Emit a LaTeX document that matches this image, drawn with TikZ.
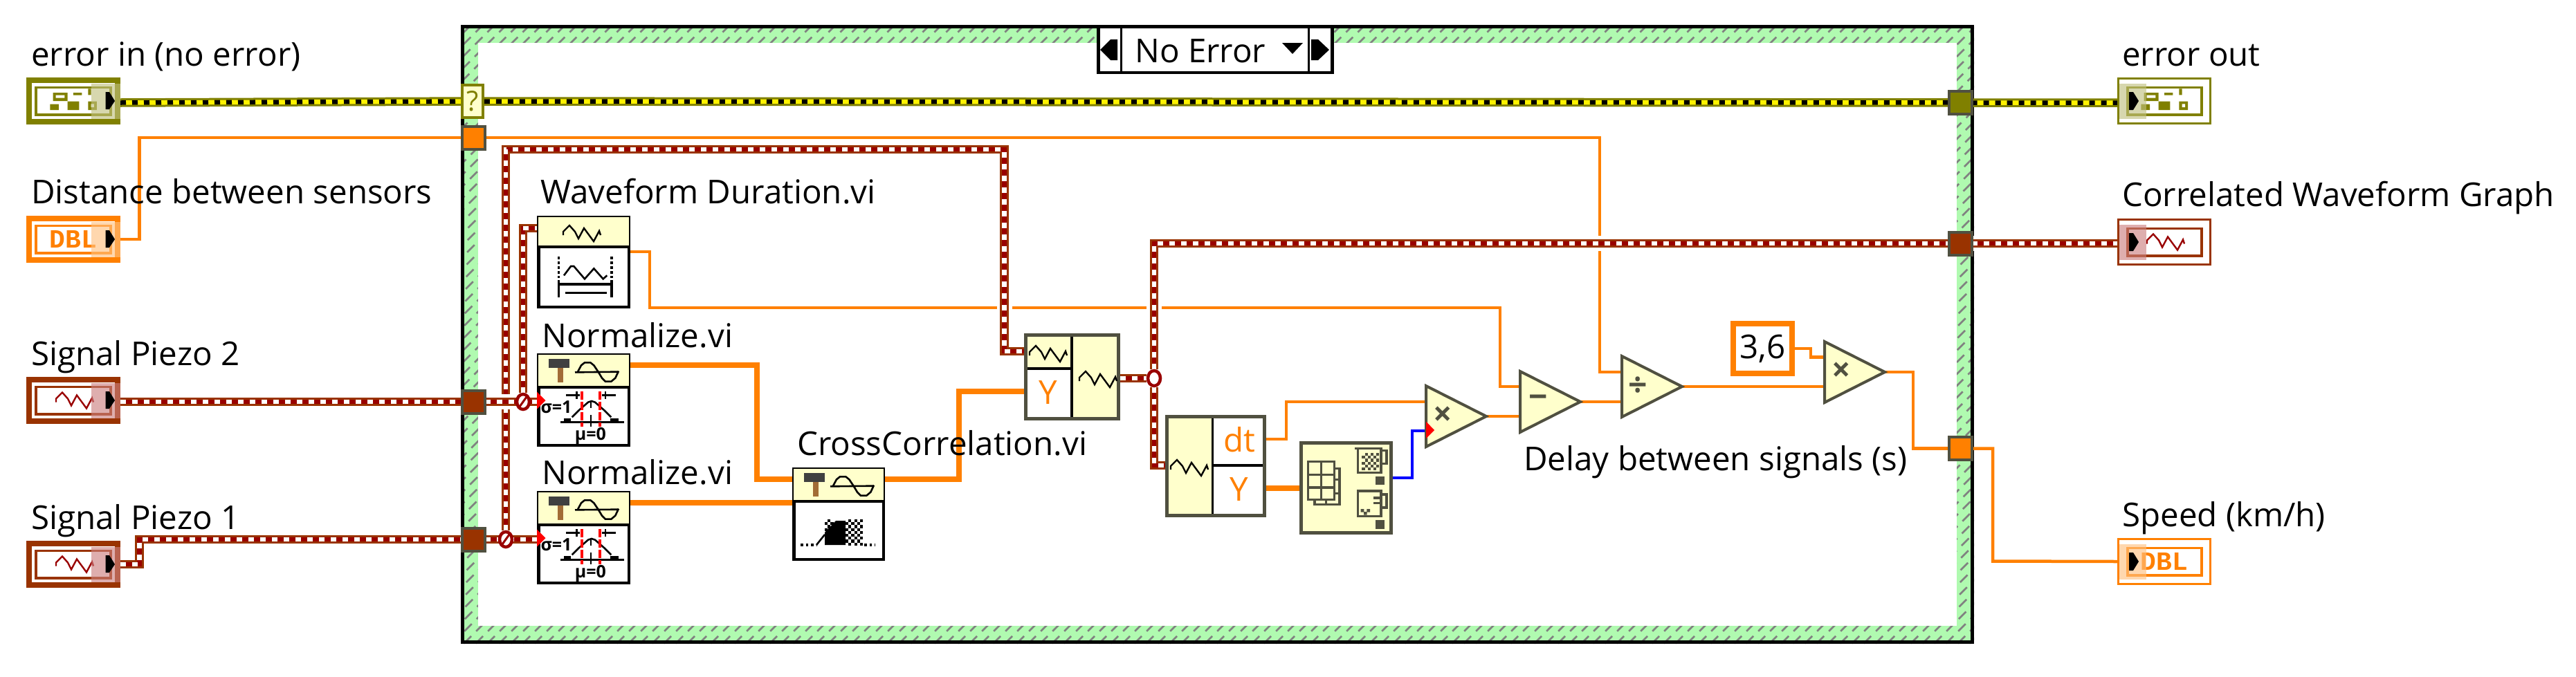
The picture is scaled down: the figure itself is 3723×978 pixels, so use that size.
\documentclass[tikz,border=0pt]{standalone}
\usepackage{fontspec}
\setmainfont{Open Sans}
\newfontfamily\termfont{Liberation Mono}
\usetikzlibrary{shapes.geometric}
\pgfdeclarelayer{frame}
\pgfdeclarelayer{wires}
\pgfsetlayers{frame,wires,main}
\definecolor{errc}{HTML}{808000}
\definecolor{wfmo}{HTML}{993300}
\definecolor{wfmi}{HTML}{990000}
\definecolor{dblc}{HTML}{FF8000}
\definecolor{hdr}{HTML}{FFFFCC}
\definecolor{gl}{HTML}{505040}
\definecolor{hatchg}{HTML}{B0FAB0}
\tikzset{
  lbl/.style={anchor=base west,inner sep=0pt,font=\fontsize{47.5}{50}\selectfont},
  thin wire/.style={draw=dblc,line width=4.5pt},
  thick wire/.style={draw=dblc,line width=8.5pt},
  wfm/.style={draw=wfmo,line width=12.5pt,
    preaction={draw=white,line width=22pt},
    postaction={draw=wfmi,line width=6.5pt},
    postaction={draw=white,line width=6.5pt,dash pattern=on 8pt off 9pt}},
  err/.style={draw=errc,line width=12.5pt,
    postaction={draw=yellow,line width=6.5pt},
    postaction={draw=black,line width=6.5pt,dash pattern=on 8pt off 9pt}},
  tun/.style={draw=gl,line width=4pt,minimum width=33pt,minimum height=33pt,inner sep=0pt,outer sep=0pt},
  vi/.style={draw=black,line width=4.5pt,fill=white,inner sep=0pt,outer sep=0pt},
  prim/.style={shape=isosceles triangle,isosceles triangle stretches,shape border rotate=0,
    minimum width=88pt,minimum height=87pt,inner sep=0pt,outer sep=0pt,draw=gl,line width=4pt,
    fill=hdr,anchor=lower side,text=gl,font=\fontsize{48}{50}\selectfont\bfseries},
  junc/.style={shape=ellipse,minimum width=18pt,minimum height=22pt,inner sep=0pt,draw=wfmi,line width=4.5pt,fill=white},
  orl/.style={inner sep=0pt,text=dblc,font=\fontsize{47.5}{50}\selectfont},
}
% waveform glyph: centre x, centre y, colour
\newcommand{\wavegl}[3]{\draw[#3,line width=2.4pt] (#1-27,#2+3) -- (#1-27,#2-2) -- (#1-18,#2-11) -- (#1-10,#2-2) -- (#1-5,#2+8) -- (#1+3,#2-7) -- (#1+17,#2+12) -- (#1+25,#2-3) -- (#1+27,#2+3);}
% error cluster glyph, drawn in zoom units
\newcommand{\errgl}[2]{\begin{scope}[shift={(#1-8,#2-7)},x=.3333pt,y=-.3333pt]
  \fill[errc] (140,87) rectangle (203,123) (228,87) rectangle (265,98) (127,137) rectangle (165,162) (203,125) rectangle (253,162) (292,70) rectangle (305,97) (292,125) rectangle (330,162);
  \fill[white] (152,98) rectangle (190,110) (305,136) rectangle (318,150);
\end{scope}}
% control terminal: name x y colour overlay glyph
\newcommand{\ctlterm}[6]{\node[draw=#4,line width=8pt,fill=white,minimum width=128pt,minimum height=60pt,inner sep=0pt,outer sep=4pt] (#1) at (#2+68,#3+34) {};
  \draw[#4,line width=3.4pt] (#2+14,#3+14.5) rectangle (#2+122,#3+54);
  #6
  \fill[#5!50!white,opacity=.63] (#2+94,#3+9) rectangle (#2+136,#3+60);
  \fill[black] (#2+114.7,#3+21) -- (#2+120,#3+21) -- (#2+128,#3+34) -- (#2+120,#3+46) -- (#2+114.7,#3+46) -- cycle;}
% indicator terminal
\newcommand{\indterm}[6]{\node[draw=#4,line width=3.2pt,fill=white,minimum width=133pt,minimum height=65pt,inner sep=0pt,outer sep=1.6pt] (#1) at (#2+68,#3+34) {};
  \draw[#4,line width=3.4pt] (#2+15,#3+14.5) rectangle (#2+122,#3+54);
  #6
  \fill[#5!50!white,opacity=.63] (#2+3,#3+9) rectangle (#2+42,#3+60);
  \fill[black] (#2+17,#3+21) -- (#2+23,#3+21) -- (#2+31,#3+34) -- (#2+23,#3+47) -- (#2+17,#3+47) -- cycle;}
% subVI: name x y w h header height
\newcommand{\viblock}[6]{\node[vi,minimum width=#4pt-4.5pt,minimum height=#5pt-4.5pt] (#1) at (#2+#4/2,#3+#5/2) {};
  \fill[hdr] (#2+2,#3+2) rectangle (#2+#4-2,#3+#6);
  \draw[black,line width=3.6pt] (#2,#3+#6) -- (#2+#4,#3+#6);}
\newcommand{\hammergl}[2]{\begin{scope}[shift={(#1-6,#2-6)},x=.3333pt,y=-.3333pt]
  \fill[black!75] (68,42) rectangle (158,80);
  \fill[brown!85!black] (107,80) rectangle (133,145);
  \draw[black,line width=2.6pt] (183,100) -- (372,98);
  \draw[black,line width=2.6pt] (195,98) -- (210,70) -- (225,58) -- (250,58) -- (265,70) -- (285,100) -- (300,125) -- (315,140) -- (340,140) -- (358,125) -- (372,95);
\end{scope}}
\newcommand{\normgl}[2]{\begin{scope}[shift={(#1,#2)},x=.3333pt,y=-.3333pt]
  \node[inner sep=0pt,font=\fontsize{25}{25}\selectfont\bfseries] (sig#2) at (102,252) {σ=1};
  \node[inner sep=0pt,font=\fontsize{25}{25}\selectfont\bfseries] (mu#2) at (250,375) {μ=0};
  \draw[black,line width=3.6pt] (120,316) -- (395,316);
  \draw[black,line width=5pt] (135,308) -- (165,308) (335,308) -- (372,308);
  \draw[black,line width=2.6pt] (170,295) -- (200,265) -- (240,230) -- (255,225) -- (270,230) -- (310,265) -- (340,295);
  \draw[black,line width=2.8pt] (145,200) -- (205,200) (300,200) -- (360,200) (190,183) -- (190,217) (315,183) -- (315,217) (252,225) -- (252,255) (252,285) -- (252,335);
  \draw[red,line width=4pt,dash pattern=on 12pt off 3pt] (213,183) -- (213,335) (290,183) -- (290,335);
\end{scope}}
\newcommand{\tgl}[2]{\fill[red] (#1,#2-12.5) -- (#1+12.5,#2) -- (#1,#2+12.5) -- cycle;}
\begin{document}
\begin{tikzpicture}[x=1pt,y=-1pt,line join=miter]
\useasboundingbox (0,0) rectangle (3723,978);
%% structure frame
\begin{pgfonlayer}{frame}
  \fill[hatchg] (666,36) rectangle (2853,931);
  \begin{scope}
    \clip (666,36) rectangle (2853,931);
    \foreach \i in {700,717,...,3800}
      \draw[black!50,line width=2.6pt,dash pattern=on 15pt off 10pt] (\i-36,36) -- (\i-936,936);
  \end{scope}
  \fill[white] (691,62) rectangle (2828,905);
  \draw[black,line width=5pt] (668.5,38.5) rectangle (2850.5,928.5);
\end{pgfonlayer}
%% case selector
\node[draw=black,line width=4.5pt,fill=white,minimum width=338pt,minimum height=66pt,inner sep=0pt] (sel) at (1756.5,72) {};
\draw[black,line width=3.6pt] (1620.5,38) -- (1620.5,105) (1891.5,38) -- (1891.5,105);
\node[lbl] (seltxt) at (1640,90) {No Error};
\fill[black] (1615,57) -- (1605,57) -- (1590,72) -- (1605,87) -- (1615,87) -- cycle;
\fill[black] (1895,57) -- (1905,57) -- (1921,72) -- (1905,87) -- (1895,87) -- cycle;
\fill[black] (1853,62) -- (1883,62) -- (1868,78) -- cycle;
%% tunnels
\node[draw=errc,line width=3.6pt,fill=hdr,minimum width=30pt,minimum height=47pt,inner sep=0pt,text=errc,font=\fontsize{40}{40}\selectfont] (qT) at (683,146.5) {?};
\node[tun,fill=dblc] (tunD) at (684.5,199) {};
\node[tun,fill=wfmo] (tun2) at (684.5,581) {};
\node[tun,fill=wfmo] (tun1) at (684.5,780) {};
\node[tun,fill=errc] (eT) at (2833,148.5) {};
\node[tun,fill=wfmo] (tunG) at (2833,352) {};
\node[tun,fill=dblc] (tunS) at (2833,648.5) {};
%% front panel terminals
\ctlterm{tEin}{38}{112}{errc}{errc}{\errgl{38}{112}}
\ctlterm{tD}{38}{312}{dblc}{dblc}{\node[inner sep=0pt,text=dblc,font=\termfont\bfseries\fontsize{38}{38}\selectfont] (tDt) at (106,345.5) {DBL};}
\ctlterm{tP2}{38}{545}{wfmo}{wfmi}{\wavegl{108}{578.5}{wfmi}}
\ctlterm{tP1}{38}{782}{wfmo}{wfmi}{\wavegl{108}{815.5}{wfmi}}
\indterm{tEout}{3060}{112}{errc}{errc}{\errgl{3060}{112}}
\indterm{tG}{3060}{316}{wfmo}{wfmi}{\wavegl{3130}{349.5}{wfmi}}
\indterm{tS}{3060}{778}{dblc}{dblc}{\node[inner sep=0pt,text=dblc,font=\termfont\bfseries\fontsize{38}{38}\selectfont] (tSt) at (3128,811.5) {DBL};}
%% labels
\node[lbl] (l1) at (45,95) {error in (no error)};
\node[lbl] (l2) at (45,294) {Distance between sensors};
\node[lbl] (l3) at (45,528) {Signal Piezo 2};
\node[lbl] (l4) at (45,765) {Signal Piezo 1};
\node[lbl] (l5) at (3067,95) {error out};
\node[lbl] (l6) at (3067,298) {Correlated Waveform Graph};
\node[lbl] (l7) at (3067,761) {Speed (km/h)};
\node[lbl] (l8) at (781,294) {Waveform Duration.vi};
\node[lbl] (l9) at (783,502) {Normalize.vi};
\node[lbl] (l10) at (783,700) {Normalize.vi};
\node[lbl] (l11) at (1152,658) {CrossCorrelation.vi};
\node[lbl] (l12) at (2202,680) {Delay between signals (s)};
%% subVIs
\viblock{wd}{776}{312}{135}{134}{45}
\wavegl{841}{337}{black}
\begin{scope}[shift={(770,305)},x=.3333pt,y=-.3333pt]
  \draw[black,line width=3.6pt,dash pattern=on 3.5pt off 3.5pt] (112,198) -- (112,290) (342,198) -- (342,290);
  \draw[black,line width=2.6pt] (135,280) -- (165,240) -- (178,240) -- (225,295) -- (265,250) -- (305,295) -- (322,280);
  \draw[black,line width=3.6pt] (112,300) -- (112,375) (342,300) -- (342,375) (112,318) -- (342,318) (140,355) -- (320,355);
\end{scope}
\viblock{n1}{776}{511}{135}{135}{49}
\hammergl{776}{511}
\normgl{770}{505}
\viblock{n2}{776}{710}{135}{135}{49}
\hammergl{776}{710}
\normgl{770}{704}
\viblock{cc}{1145}{676}{134}{135}{49}
\hammergl{1145}{676}
\begin{scope}[shift={(1145,676)}]
  \fill[black] (47,112) -- (47,94) -- (63,77) -- (77,77) -- (77,112) -- cycle;
  \foreach \a in {0,...,5} {
    \foreach \b in {0,...,8} {
      \ifodd\numexpr\a+\b\relax\fill[black] (77+\a*4.2,75+\b*4.2) rectangle +(4.2,4.2);\fi
    }
  }
  \foreach \a in {0,...,2} {
    \foreach \b in {0,...,3} {
      \ifodd\numexpr\a+\b\relax\fill[black] (47+\a*4.2,75+\b*4.2) rectangle +(4.2,4.2);\fi
    }
  }
  \draw[black,line width=3.6pt,dash pattern=on 3.6pt off 4pt] (12,112) -- (36,112) (104,112) -- (120,112);
  \draw[black,line width=2.6pt] (35,112) -- (47,97);
\end{scope}
%% build waveform
\node[draw=gl,line width=5pt,fill=hdr,minimum width=134pt,minimum height=121pt,inner sep=0pt,outer sep=0pt] (bw) at (1549.5,545) {};
\fill[white] (1549,533) rectangle (1482.5,605.5);
\draw[black,line width=3.6pt] (1549,484) -- (1549,606) (1482,533) -- (1549,533);
\draw[gl,line width=5pt] (bw.south west) rectangle (bw.north east);
\wavegl{1515}{511}{black}
\wavegl{1587}{548}{black}
\node[orl] (bwyt) at (1515,568) {Y};
%% get waveform components
\node[draw=gl,line width=5pt,fill=hdr,minimum width=141pt,minimum height=143pt,inner sep=0pt,outer sep=0pt] (gw) at (1757,674) {};
\fill[white] (1752.5,602.5) rectangle (1827.5,745.5);
\draw[black,line width=3.6pt] (1752.5,602) -- (1752.5,746) (1752.5,673) -- (1828,673);
\draw[gl,line width=5pt] (gw.south west) rectangle (gw.north east);
\wavegl{1719}{676}{black}
\node[orl] (gwdtx) at (1791,636) {dt};
\node[orl] (gwyx) at (1791,708) {Y};
%% array max min
\node[draw=gl,line width=5pt,fill=hdr,minimum width=130pt,minimum height=130pt,inner sep=0pt,outer sep=0pt] (amm) at (1945.5,705.5) {};
\begin{scope}[shift={(1870,630)},x=.3333pt,y=-.3333pt]
  \draw[gl,line width=3.4pt] (62,113) rectangle (175,278) (118,113) -- (118,278) (62,170) -- (175,170) (62,225) -- (175,225);
  \draw[gl,line width=3.4pt] (175,142) -- (198,142) -- (198,298) -- (90,298) -- (90,278) (175,190) -- (198,190) (175,250) -- (198,250) (140,278) -- (140,298);
  \draw[gl,line width=3.4pt] (265,55) -- (378,55) (278,55) rectangle (378,160) (378,65) -- (402,65) -- (402,122) -- (378,122);
  \foreach \a in {0,...,5} {
    \foreach \b in {0,...,5} {
      \ifodd\numexpr\a+\b\relax\fill[gl] (295+\a*12.5,75+\b*12.5) rectangle +(12.5,12.5);\fi
    }
  }
  \fill[gl] (355,176) rectangle (392,213);
  \draw[gl,line width=3.4pt] (278,240) rectangle (378,350) (378,255) -- (402,255) -- (402,312) -- (378,312) (345,270) -- (378,270) (345,292) -- (378,292);
  \fill[gl] (290,318) rectangle +(14,14) (316,318) rectangle +(14,14) (303,330) rectangle +(14,14);
  \fill[gl] (355,367) rectangle (392,405);
\end{scope}
%% numeric primitives
\node[prim] (m1) at (2061,602) {×};
\node[prim] (sub) at (2197,581) {−};
\node[prim] (dv) at (2344,559) {÷};
\node[prim] (m2) at (2637,538) {×};
\node[draw=dblc,line width=8pt,fill=white,minimum width=85pt,minimum height=72pt,inner sep=0pt,outer sep=4pt,font=\fontsize{47.5}{50}\selectfont] (cst) at (2547.5,504) {3,6};
%% junctions and coercion dots
\node[junc] (j1) at (756,581) {};
\node[junc] (j2) at (731,780) {};
\node[junc] (j3) at (1668,547) {};
\draw[wfmi,line width=3pt] (751,588) -- (761,574) (726,787) -- (736,773);
\tgl{776}{579}
\tgl{776}{778}
\fill[red] (2061,609.5) -- (2073,622) -- (2061,634) -- cycle;
%% ports
\coordinate (wdi) at (777,330);
\coordinate (wdo) at (911,364);
\coordinate (n1o) at (911,528);
\coordinate (n2o) at (911,727);
\coordinate (cci1) at (1145,693);
\coordinate (cci2) at (1145,727);
\coordinate (cco) at (1279,693);
\coordinate (bwi) at (1480,508);
\coordinate (bwy) at (1480,566);
\coordinate (bwo) at (1619,547);
\coordinate (gwi) at (1684,673);
\coordinate (gwdt) at (1830,635);
\coordinate (gwy) at (1830,706);
\coordinate (ammi) at (1879,706);
\coordinate (ammo) at (2013,691);
\coordinate (m1u) at (2061,581);
\coordinate (m1l) at (2061,622.5);
\coordinate (subu) at (2197,559);
\coordinate (subl) at (2197,602);
\coordinate (dvu) at (2344,538);
\coordinate (dvl) at (2344,581);
\coordinate (m2u) at (2637,516.5);
\coordinate (m2l) at (2637,559);
%% wires, kept under the nodes
\begin{pgfonlayer}{wires}
  \draw[thin wire] (tD.east) -| (201.5,199) -- (tunD);
  \draw[thin wire] (tunD) -| (2312,538) -- (dvu);
  \draw[thin wire] (wdo) -| (939,445) -| (2168,559) -- (subu);
  \draw[thin wire] (gwdt) -| (1859,581) -- (m1u);
  \draw[thin wire] (m1.apex) -- (subl);
  \draw[thin wire] (sub.apex) -- (dvl);
  \draw[thin wire] (dv.apex) -- (m2l);
  \draw[thin wire] (cst.east) -| (2617,516.5) -- (m2u);
  \draw[thin wire] (m2.apex) -| (2765,648.5) -- (tunS);
  \draw[thin wire] (tunS) -| (2880,811.5) -- (tS.west);
  \draw[thick wire] (n1o) -| (1094,693) -- (cci1);
  \draw[thick wire] (n2o) -- (cci2);
  \draw[thick wire] (cco) -| (1386,566) -- (bwy);
  \draw[thick wire] (gwy) -- (ammi);
  \draw[blue,line width=4pt] (ammo) -| (2041,622.5) -- (m1l);
  \draw[err] (tEin.east |- eT) -- (qT) -- (eT) -- (tEout.west |- eT);
  \draw[wfm] (j2) -- (731,216) -- (1451.5,216) -- (1451.5,508) -- (bwi);
  \draw[wfm] (j1) |- (wdi);
  \draw[wfm] (tP1.east) -| (201.5,780) -- (tun1) -- (n2.west |- tun1);
  \draw[wfm] (tP2.east |- tun2) -- (tun2) -- (n1.west |- tun2);
  \draw[wfm] (j3) |- (gwi);
  \draw[wfm] (j3) |- (tunG) -- (tG.west |- tunG);
  \draw[wfm] (bwo) -- (j3);
\end{pgfonlayer}
\end{tikzpicture}
\end{document}
